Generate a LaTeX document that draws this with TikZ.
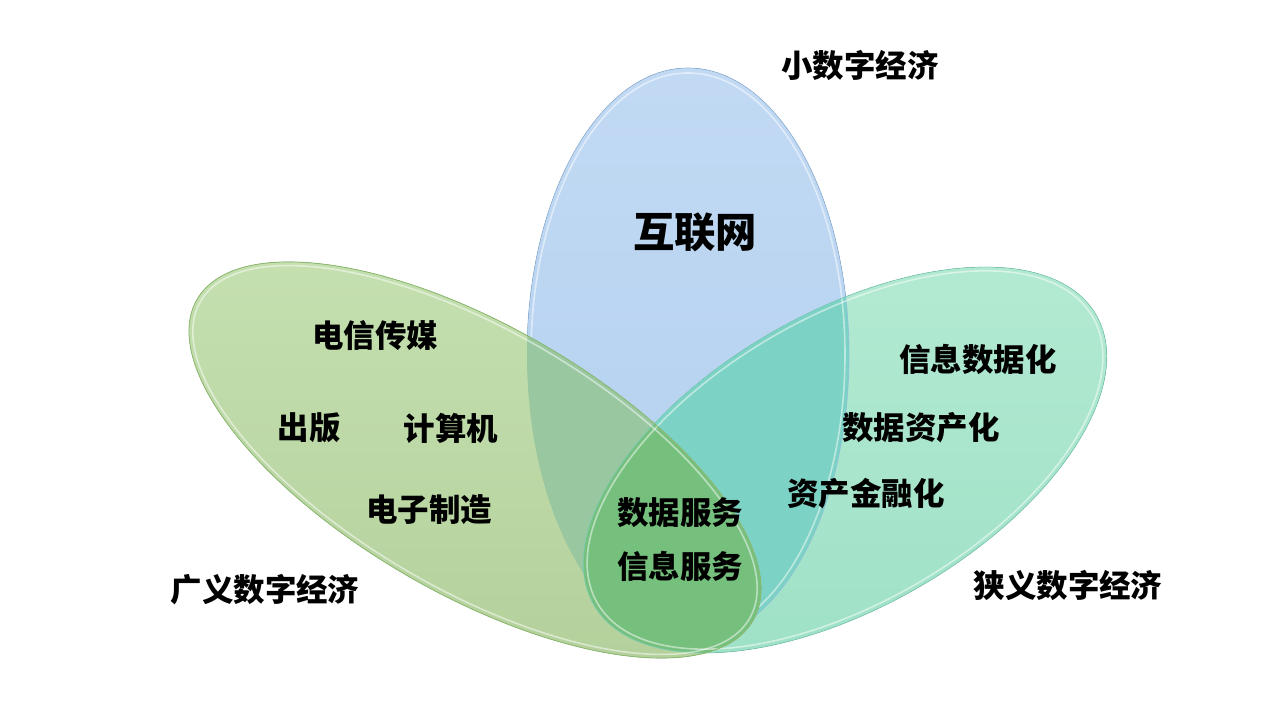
\documentclass[tikz,border=0pt]{standalone}
\usepackage{fontspec}
\setmainfont{Noto Sans CJK SC}
\usepackage{tikz}
\usetikzlibrary{positioning}

\definecolor{xiaoC}{RGB}{178,208,240}
\definecolor{xiaC}{RGB}{166,230,202}
\definecolor{guangC}{RGB}{188,219,163}
\definecolor{guangxiaoC}{RGB}{152,199,160}
\definecolor{xiaxiaoC}{RGB}{124,210,196}
\definecolor{tearC}{RGB}{118,192,126}
\definecolor{xiaoLine}{RGB}{140,182,226}
\definecolor{xiaLine}{RGB}{120,205,185}
\definecolor{guangLine}{RGB}{140,186,112}

\tikzset{
  guang/.style={rotate around={-30:(475,260)}},
  xia/.style={rotate around={30:(845,260)}},
  label/.style={font=\fontsize{23.6}{28}\selectfont\bfseries, inner sep=0pt},
  rim/.style={line width=1.2pt, white, opacity=0.5},
}
\newcommand\xiaoE{(688,365) ellipse [x radius=161, y radius=287]}
\newcommand\guangE{(475,260) ellipse [x radius=321, y radius=134]}
\newcommand\xiaE{(845,260) ellipse [x radius=290, y radius=147]}

\begin{document}
\begin{tikzpicture}[x=0.75pt, y=0.75pt]
            \useasboundingbox (0,0) rectangle (1280,720);
            \fill[white] (0,0) rectangle (1280,720);

            \fill[top color=xiaoC!80!white, bottom color=xiaoC] \xiaoE;
            \fill[xia, top color=xiaC!85!white, bottom color=xiaC!95!teal] \xiaE;
            \begin{scope}
                \clip[xia] \xiaE;
                \fill[xiaxiaoC] \xiaoE;
            \end{scope}
            % rim of the blue one, under the green one
            \draw[xiaoLine, line width=0.6pt, opacity=0.6] \xiaoE;
            \draw[rim] (688,365) ellipse [x radius=157, y radius=282];
            \fill[guang, top color=guangC!85!white, bottom color=guangC!95!black] \guangE;
            \begin{scope}
                \clip[guang] \guangE;
                \fill[guangxiaoC] \xiaoE;
                \fill[xia, tearC] \xiaE;
            \end{scope}

            % rims
            \draw[xia, xiaLine, line width=0.6pt, opacity=0.7] \xiaE;
            \draw[xia, rim] (845,260) ellipse [x radius=286, y radius=143];
            \draw[guang, guangLine, line width=0.6pt] \guangE;
            \draw[guang, rim] (475,260) ellipse [x radius=317, y radius=130];

            \node[label] (xiao) at (860,654) {小数字经济};
            \node[label, font=\fontsize{31}{36}\selectfont\bfseries] (hulian) at (695,488) {互联网};
            \node[label] (dianxin) at (375,384) {电信传媒};
            \node[label] (chuban) at (309,292) {出版};
            \node[label] (jisuanji) at (451,292) {计算机};
            \node[label] (dianzi) at (429,210) {电子制造};
            \node[label] (shuju) at (680,207) {数据服务};
            \node[label] (xinxi) at (680,154) {信息服务};
            \node[label] (xxsj) at (978,361) {信息数据化};
            \node[label] (sjzc) at (921,292) {数据资产化};
            \node[label] (zcjr) at (866,226) {资产金融化};
            \node[label] (guangyi) at (265,130) {广义数字经济};
            \node[label] (xiayi) at (1068,134) {狭义数字经济};
\end{tikzpicture}
\end{document}
